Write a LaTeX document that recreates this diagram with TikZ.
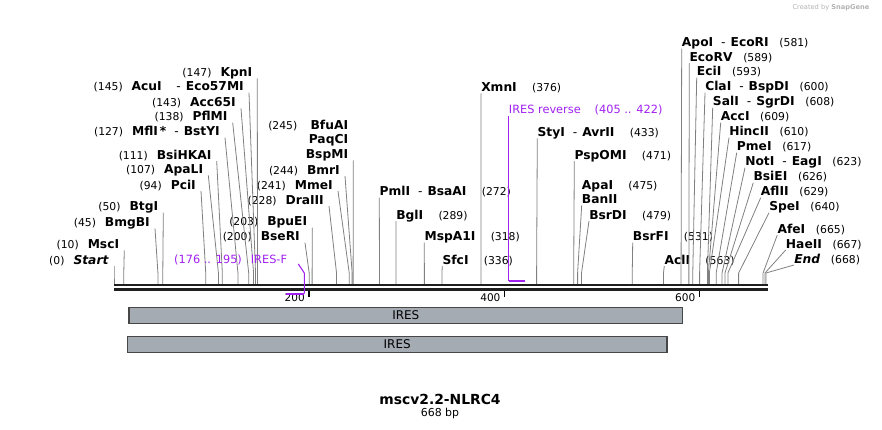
\documentclass[tikz,border=0pt]{standalone}
\usepackage{fontspec}
\setmainfont{DejaVu Sans}
\definecolor{primer}{RGB}{160,32,240}
\definecolor{featgray}{RGB}{165,171,179}
\definecolor{cutgray}{RGB}{128,128,128}
\newcommand{\enzpos}[1]{{\mdseries\fontsize{8.1}{10}\selectfont(#1)}}
\newcommand{\dsh}{\hspace{6pt}{\mdseries-}\hspace{3.75pt}}

\begin{document}
\begin{tikzpicture}[x=0.75pt, y=-0.75pt,
    lab/.style={font=\fontsize{9.2}{11}\selectfont\bfseries, text height=6.7pt, text depth=0pt, inner ysep=1.15pt},
    lft/.style={lab, anchor=south east, inner xsep=3.7pt},
    rgt/.style={lab, anchor=south west, inner xsep=0pt},
    cut/.style={cutgray, line width=0.6pt},
    bbone/.style={black!88, line width=1.9pt},
    tck/.style={black, line width=1.1pt},
    ticklab/.style={font=\fontsize{7.9}{9}\selectfont, inner sep=0pt, anchor=east},
    feat/.style={draw=black!72, line width=1.1pt, fill=featgray, inner sep=0pt, minimum height=12pt, font=\fontsize{9}{11}\selectfont},
    prm/.style={primer, font=\fontsize{8.5}{10}\selectfont, text height=6.2pt, text depth=0pt, inner ysep=0pt},
    prline/.style={primer, line width=0.8pt},
    prbar/.style={primer, line width=1.6pt}]
    \useasboundingbox (0,0) rectangle (882,429);

    \node[font=\fontsize{5}{6}\selectfont, text=gray!60] (credit) at (831,8) {Created by \textbf{SnapGene}};

    \coordinate (kink) at (0,273);
    \coordinate (bbL) at (114,284.8);
    \coordinate (bbR) at (767.7,284.8);
    \coordinate (bbL2) at (114,289.3);
    \coordinate (bbR2) at (767.7,289.3);

    % 切断部位
    \coordinate (s0) at (114,285);
    \coordinate (s10) at ({114+0.976*10},285);
    \coordinate (s45) at ({114+0.976*45},285);
    \coordinate (s50) at ({114+0.976*50},285);
    \coordinate (s94) at ({114+0.976*94},285);
    \coordinate (s107) at ({114+0.976*107},285);
    \coordinate (s111) at ({114+0.976*111},285);
    \coordinate (s127) at ({114+0.976*127},285);
    \coordinate (s138) at ({114+0.976*138},285);
    \coordinate (s143) at ({114+0.976*143},285);
    \coordinate (s145) at ({114+0.976*145},285);
    \coordinate (s147) at ({114+0.976*147},285);
    \coordinate (s200) at ({114+0.976*200},285);
    \coordinate (s203) at ({114+0.976*203},285);
    \coordinate (s228) at ({114+0.976*228},285);
    \coordinate (s241) at ({114+0.976*241},285);
    \coordinate (s244) at ({114+0.976*244},285);
    \coordinate (s245) at ({114+0.976*245},285);
    \coordinate (s272) at ({114+0.976*272},285);
    \coordinate (s289) at ({114+0.976*289},285);
    \coordinate (s318) at ({114+0.976*318},285);
    \coordinate (s336) at ({114+0.976*336},285);
    \coordinate (s376) at ({114+0.976*376},285);
    \coordinate (s433) at ({114+0.976*433},285);
    \coordinate (s471) at ({114+0.976*471},285);
    \coordinate (s475) at ({114+0.976*475},285);
    \coordinate (s479) at ({114+0.976*479},285);
    \coordinate (s531) at ({114+0.976*531},285);
    \coordinate (s563) at ({114+0.976*563},285);
    \coordinate (s581) at ({114+0.976*581},285);
    \coordinate (s589) at ({114+0.976*589},285);
    \coordinate (s593) at ({114+0.976*593},285);
    \coordinate (s600) at ({114+0.976*600},285);
    \coordinate (s608) at ({114+0.976*608},285);
    \coordinate (s609) at ({114+0.976*609},285);
    \coordinate (s610) at ({114+0.976*610},285);
    \coordinate (s617) at ({114+0.976*617},285);
    \coordinate (s623) at ({114+0.976*623},285);
    \coordinate (s626) at ({114+0.976*626},285);
    \coordinate (s629) at ({114+0.976*629},285);
    \coordinate (s640) at ({114+0.976*640},285);
    \coordinate (s665) at ({114+0.976*665},285);
    \coordinate (s667) at ({114+0.976*667},285);
    \coordinate (s668) at ({114+0.976*668},285);

    \node[lft] (Start) at (114,266) {\enzpos{0}\hspace{6.75pt}\textit{Start}};
    \node[lft] (MscI) at (124.3,250.3) {\enzpos{10}\hspace{6.75pt}MscI};
    \node[lft] (BmgBI) at (155,228.3) {\enzpos{45}\hspace{6.75pt}BmgBI};
    \node[lft] (BtgI) at (163.3,212.7) {\enzpos{50}\hspace{6.75pt}BtgI};
    \node[lft] (PciI) at (201,191) {\enzpos{94}\hspace{6.75pt}PciI};
    \node[lft] (ApaLI) at (208.3,175.3) {\enzpos{107}\hspace{6.75pt}ApaLI};
    \node[lft] (BsiHKAI) at (216.7,161) {\enzpos{111}\hspace{6.75pt}BsiHKAI};
    \node[lft] (MflI) at (225,137.7) {\enzpos{127}\hspace{6.75pt}MflI\,*\dsh BstYI};
    \node[lft] (PflMI) at (232.7,122.7) {\enzpos{138}\hspace{6.75pt}PflMI};
    \node[lft] (Acc65I) at (241,108.3) {\enzpos{143}\hspace{6.75pt}Acc65I};
    \node[lft] (AcuI) at (249,92.7) {\enzpos{145}\hspace{6.75pt}AcuI\hspace{5pt}\dsh Eco57MI};
    \node[lft] (KpnI) at (257.3,78.3) {\enzpos{147}\hspace{6.75pt}KpnI};

    \node[lft] (BseRI) at (305,242.7) {\enzpos{200}\hspace{6.75pt}BseRI};
    \node[lft] (BpuEI) at (312.3,227.7) {\enzpos{203}\hspace{6.75pt}BpuEI};
    \node[lft] (DraIII) at (329,206) {\enzpos{228}\hspace{6.75pt}DraIII};
    \node[lft] (MmeI) at (338,191) {\enzpos{241}\hspace{6.75pt}MmeI};
    \node[lft] (BmrI) at (345,176) {\enzpos{244}\hspace{6.75pt}BmrI};
    \node[lft] (BspMI) at (353.3,160.3) {BspMI};
    \node[lft] (PaqCI) at (353.3,145.3) {PaqCI};
    \node[lft] (BfuAI) at (353.3,131) {\enzpos{245}\hspace{10pt}BfuAI};

    \node[rgt] (PmlI) at (379.3,197.7) {PmlI\dsh BsaAI\hspace{11.5pt}\enzpos{272}};
    \node[rgt] (BglI) at (396,221) {BglI\hspace{11.5pt}\enzpos{289}};
    \node[rgt] (MspA1I) at (424.3,242.7) {MspA1I\hspace{11.5pt}\enzpos{318}};
    \node[rgt] (SfcI) at (442.3,266) {SfcI\hspace{11.5pt}\enzpos{336}};
    \node[rgt] (XmnI) at (481,93.3) {XmnI\hspace{11.5pt}\enzpos{376}};
    \node[rgt] (StyI) at (537.3,138.3) {StyI\dsh AvrII\hspace{11.5pt}\enzpos{433}};
    \node[rgt] (PspOMI) at (574.3,161) {PspOMI\hspace{11.5pt}\enzpos{471}};
    \node[rgt] (ApaI) at (581.7,191) {ApaI\hspace{11.5pt}\enzpos{475}};
    \node[rgt] (BanII) at (581.7,205.3) {BanII};
    \node[rgt] (BsrDI) at (589,221) {BsrDI\hspace{11.5pt}\enzpos{479}};
    \node[rgt] (BsrFI) at (632.7,242.7) {BsrFI\hspace{11.5pt}\enzpos{531}};
    \node[rgt] (AclI) at (664.3,266) {AclI\hspace{11.5pt}\enzpos{563}};

    \node[rgt] (ApoI) at (681.7,48.5) {ApoI\dsh EcoRI\hspace{8pt}\enzpos{581}};
    \node[rgt] (EcoRV) at (689.3,63) {EcoRV\hspace{8pt}\enzpos{589}};
    \node[rgt] (EciI) at (696.7,77.7) {EciI\hspace{8pt}\enzpos{593}};
    \node[rgt] (ClaI) at (705,92.7) {ClaI\dsh BspDI\hspace{8pt}\enzpos{600}};
    \node[rgt] (SalI) at (712.7,107.7) {SalI\dsh SgrDI\hspace{8pt}\enzpos{608}};
    \node[rgt] (AccI) at (720.7,122.7) {AccI\hspace{8pt}\enzpos{609}};
    \node[rgt] (HincII) at (729,137.7) {HincII\hspace{8pt}\enzpos{610}};
    \node[rgt] (PmeI) at (736.7,152.7) {PmeI\hspace{8pt}\enzpos{617}};
    \node[rgt] (NotI) at (745,167.7) {NotI\dsh EagI\hspace{8pt}\enzpos{623}};
    \node[rgt] (BsiEI) at (753.3,182.7) {BsiEI\hspace{8pt}\enzpos{626}};
    \node[rgt] (AflII) at (760.7,197.7) {AflII\hspace{8pt}\enzpos{629}};
    \node[rgt] (SpeI) at (769,212.7) {SpeI\hspace{8pt}\enzpos{640}};
    \node[rgt] (AfeI) at (777.3,235) {AfeI\hspace{8pt}\enzpos{665}};
    \node[rgt] (HaeII) at (785.7,250) {HaeII\hspace{8pt}\enzpos{667}};
    \node[rgt] (End) at (794,265) {\textit{End}\hspace{8pt}\enzpos{668}};

    % 線を引く
    \draw[cut] (Start.south east) -- (s0 |- kink) -- (s0);
    \draw[cut] (MscI.south east) -- (s10 |- kink) -- (s10);
    \draw[cut] (BmgBI.south east) -- (s45 |- kink) -- (s45);
    \draw[cut] (BtgI.south east) -- (s50 |- kink) -- (s50);
    \draw[cut] (PciI.south east) -- (s94 |- kink) -- (s94);
    \draw[cut] (ApaLI.south east) -- (s107 |- kink) -- (s107);
    \draw[cut] (BsiHKAI.south east) -- (s111 |- kink) -- (s111);
    \draw[cut] (MflI.south east) -- (s127 |- kink) -- (s127);
    \draw[cut] (PflMI.south east) -- (s138 |- kink) -- (s138);
    \draw[cut] (Acc65I.south east) -- (s143 |- kink) -- (s143);
    \draw[cut] (AcuI.south east) -- (s145 |- kink) -- (s145);
    \draw[cut] (KpnI.south east) -- (s147 |- kink) -- (s147);
    \draw[cut] (BseRI.south east) -- (s200 |- kink) -- (s200);
    \draw[cut] (BpuEI.south east) -- (s203 |- kink) -- (s203);
    \draw[cut] (DraIII.south east) -- (s228 |- kink) -- (s228);
    \draw[cut] (MmeI.south east) -- (s241 |- kink) -- (s241);
    \draw[cut] (BmrI.south east) -- (s244 |- kink) -- (s244);
    \draw[cut] (BspMI.south east) -- (s245 |- kink) -- (s245);
    \draw[cut] (PmlI.south west) -- (s272 |- kink) -- (s272);
    \draw[cut] (BglI.south west) -- (s289 |- kink) -- (s289);
    \draw[cut] (MspA1I.south west) -- (s318 |- kink) -- (s318);
    \draw[cut] (SfcI.south west) -- (s336 |- kink) -- (s336);
    \draw[cut] (XmnI.south west) -- (s376 |- kink) -- (s376);
    \draw[cut] (StyI.south west) -- (s433 |- kink) -- (s433);
    \draw[cut] (PspOMI.south west) -- (s471 |- kink) -- (s471);
    \draw[cut] (BanII.south west) -- (s475 |- kink) -- (s475);
    \draw[cut] (BsrDI.south west) -- (s479 |- kink) -- (s479);
    \draw[cut] (BsrFI.south west) -- (s531 |- kink) -- (s531);
    \draw[cut] (AclI.south west) -- (s563 |- kink) -- (s563);
    \draw[cut] (ApoI.south west) -- (s581 |- kink) -- (s581);
    \draw[cut] (EcoRV.south west) -- (s589 |- kink) -- (s589);
    \draw[cut] (EciI.south west) -- (s593 |- kink) -- (s593);
    \draw[cut] (ClaI.south west) -- (s600 |- kink) -- (s600);
    \draw[cut] (SalI.south west) -- (s608 |- kink) -- (s608);
    \draw[cut] (AccI.south west) -- (s609 |- kink) -- (s609);
    \draw[cut] (HincII.south west) -- (s610 |- kink) -- (s610);
    \draw[cut] (PmeI.south west) -- (s617 |- kink) -- (s617);
    \draw[cut] (NotI.south west) -- (s623 |- kink) -- (s623);
    \draw[cut] (BsiEI.south west) -- (s626 |- kink) -- (s626);
    \draw[cut] (AflII.south west) -- (s629 |- kink) -- (s629);
    \draw[cut] (SpeI.south west) -- (s640 |- kink) -- (s640);
    \draw[cut] (AfeI.south west) -- (s665 |- kink) -- (s665);
    \draw[cut] (HaeII.south west) -- (s667 |- kink) -- (s667);
    \draw[cut] (End.south west) -- (s668 |- kink) -- (s668);

    % 骨格と目盛り
    \draw[bbone] (bbL) -- (bbR);
    \draw[bbone] (bbL2) -- (bbR2);
    \coordinate (t200) at ({114+0.976*200},290.5);
    \coordinate (t400) at ({114+0.976*400},290.5);
    \coordinate (t600) at ({114+0.976*600},290.5);
    \draw[tck] (t200) -- ++(0,6);
    \draw[tck] (t400) -- ++(0,6);
    \draw[tck] (t600) -- ++(0,6);
    \node[ticklab] (n200) at (305,297.5) {200};
    \node[ticklab] (n400) at (500.7,297.5) {400};
    \node[ticklab] (n600) at (695.5,297.5) {600};

    % プライマー
    \coordinate (f176) at ({114+0.976*176},293.7);
    \coordinate (f195) at ({114+0.976*195},293.7);
    \coordinate (r405) at (508.7,280.7);
    \coordinate (r422) at (524.5,280.7);
    \node[prm, anchor=south east, inner xsep=8.2pt] (IRESF) at (298.3,264) {(176 .. 195)\hspace{6.75pt}IRES-F};
    \node[prm, anchor=south west, inner xsep=0pt, inner ysep=1.4pt] (IRESR) at (508.7,116) {IRES reverse\hspace{10.5pt}(405 .. 422)};
    \draw[prline] (IRESF.south east) -- (f195 |- kink) -- (f195);
    \draw[prbar] (f176) -- (f195);
    \draw[prline] (IRESR.south west) -- (r405);
    \draw[prbar] (r405) -- (r422);

    % 特徴
    \node[feat, minimum width=415.2pt] (ires1) at (405.8,315.3) {IRES};
    \node[feat, minimum width=404.8pt] (ires2) at (397.2,344.3) {IRES};

    \node[font=\fontsize{10.4}{12}\selectfont\bfseries] (title) at (440,399) {mscv2.2-NLRC4};
    \node[font=\fontsize{8.2}{10}\selectfont] (size) at (440,413.3) {668 bp};
\end{tikzpicture}
\end{document}
